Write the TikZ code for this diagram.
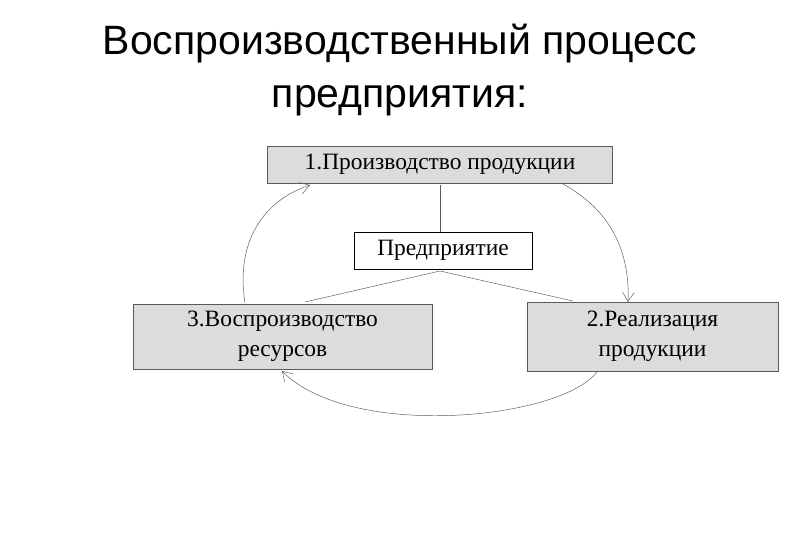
\documentclass[tikz,border=0pt]{standalone}
\usepackage{fontspec}
\usetikzlibrary{arrows.meta}
\setmainfont{Liberation Serif}
\newfontfamily\titlefont{Liberation Sans}
\definecolor{boxgray}{RGB}{220,220,220}
\definecolor{linegray}{RGB}{90,90,90}
\begin{document}
\begin{tikzpicture}[x=0.03cm,y=-0.03cm,
   stagebox/.style={draw=linegray,fill=boxgray,align=center,font=\fontsize{20}{26}\selectfont},
   centerbox/.style={draw=black,fill=white,font=\fontsize{20}{24}\selectfont},
   link/.style={linegray},
   cycle/.style={linegray,-{Straight Barb[length=8pt,width=10pt]}}]
   \useasboundingbox (0,0) rectangle (800,554);

   \node[font=\titlefont\fontsize{35}{46}\selectfont,align=center] (title) at (400,70)
     {Воспроизводственный процесс\\предприятия:};

   \node[stagebox,minimum width=345*0.03cm,minimum height=37*0.03cm] (prod) at (440,164.5)
     {1.Производство продукции};
   \node[centerbox,minimum width=178*0.03cm,minimum height=37*0.03cm] (firm) at (443,250.5)
     {Предприятие};
   \node[stagebox,minimum width=299*0.03cm,minimum height=65*0.03cm] (res) at (282.5,336.5)
     {3.Воспроизводство\\ресурсов};
   \node[stagebox,minimum width=251*0.03cm,minimum height=69*0.03cm] (sale) at (652.5,336.5)
     {2.Реализация\\продукции};

   \coordinate (hub) at (440,271);
   \draw[link] (440,185) -- (firm.north -| 440,185);
   \draw[link] (hub) -- (305,302);
   \draw[link] (hub) -- (573,301);

   % cycle arrows
   \draw[cycle] (245,303) .. controls (235,240) and (265,200) .. (310,185);
   \draw[cycle] (563,184) .. controls (610,210) and (630,250) .. (628,302);
   \draw[cycle] (597,372) .. controls (560,420) and (350,440) .. (282,371);
\end{tikzpicture}
\end{document}
